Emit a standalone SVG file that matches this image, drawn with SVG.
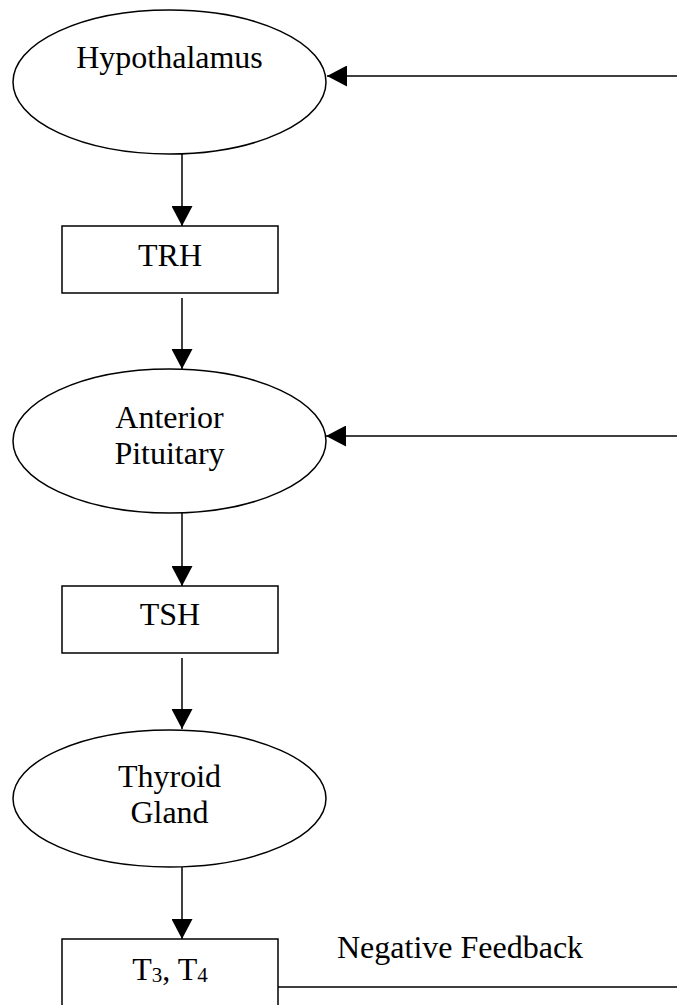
<svg xmlns="http://www.w3.org/2000/svg" width="677" height="1005" viewBox="0 0 677 1005">
  <style>
    .shape { fill: #fff; stroke: #000; stroke-width: 1.5; }
    .conn { fill: none; stroke: #000; stroke-width: 1.5; }
    .lbl { font-family: "Liberation Serif", "Times New Roman", serif; font-size: 32px; fill: #000; text-anchor: middle; }
    .sub { font-size: 21px; }
  </style>
  <defs>
    <marker id="arrow" markerUnits="userSpaceOnUse" markerWidth="20" markerHeight="21" refX="20" refY="10.5" orient="auto">
      <path d="M0,0 L20,10.5 L0,21 z" fill="#000"/>
    </marker>
  </defs>
  <rect width="677" height="1005" fill="#fff"/>

  <g id="connectors">
    <line class="conn" x1="182" y1="154" x2="182" y2="226" marker-end="url(#arrow)"/>
    <line class="conn" x1="182" y1="298" x2="182" y2="369" marker-end="url(#arrow)"/>
    <line class="conn" x1="182" y1="513" x2="182" y2="586" marker-end="url(#arrow)"/>
    <line class="conn" x1="182" y1="658" x2="182" y2="729" marker-end="url(#arrow)"/>
    <line class="conn" x1="182" y1="867" x2="182" y2="939" marker-end="url(#arrow)"/>
    <line class="conn" x1="690" y1="76" x2="327" y2="76" marker-end="url(#arrow)"/>
    <line class="conn" x1="690" y1="436" x2="326" y2="436" marker-end="url(#arrow)"/>
    <line class="conn" x1="278" y1="987" x2="690" y2="987"/>
    <text class="lbl" x="337" y="958" style="text-anchor:start">Negative Feedback</text>
  </g>

  <g id="hypothalamus">
    <ellipse class="shape" cx="169.5" cy="82" rx="156.5" ry="72"/>
    <text class="lbl" x="169.5" y="68">Hypothalamus</text>
  </g>

  <g id="trh">
    <rect class="shape" x="62" y="226" width="216" height="67"/>
    <text class="lbl" x="170" y="266">TRH</text>
  </g>

  <g id="anterior-pituitary">
    <ellipse class="shape" cx="169.5" cy="441" rx="156.5" ry="72"/>
    <text class="lbl" x="169.5" y="428">Anterior</text>
    <text class="lbl" x="169.5" y="464">Pituitary</text>
  </g>

  <g id="tsh">
    <rect class="shape" x="62" y="586" width="216" height="67"/>
    <text class="lbl" x="170" y="625">TSH</text>
  </g>

  <g id="thyroid-gland">
    <ellipse class="shape" cx="169.5" cy="798.5" rx="156.5" ry="68.5"/>
    <text class="lbl" x="169.5" y="787">Thyroid</text>
    <text class="lbl" x="169.5" y="823">Gland</text>
  </g>

  <g id="t3-t4">
    <rect class="shape" x="62" y="939" width="216" height="90"/>
    <text class="lbl" x="170" y="980">T<tspan class="sub" dy="2">3</tspan><tspan dy="-2">, T</tspan><tspan class="sub" dy="2">4</tspan></text>
  </g>
</svg>
